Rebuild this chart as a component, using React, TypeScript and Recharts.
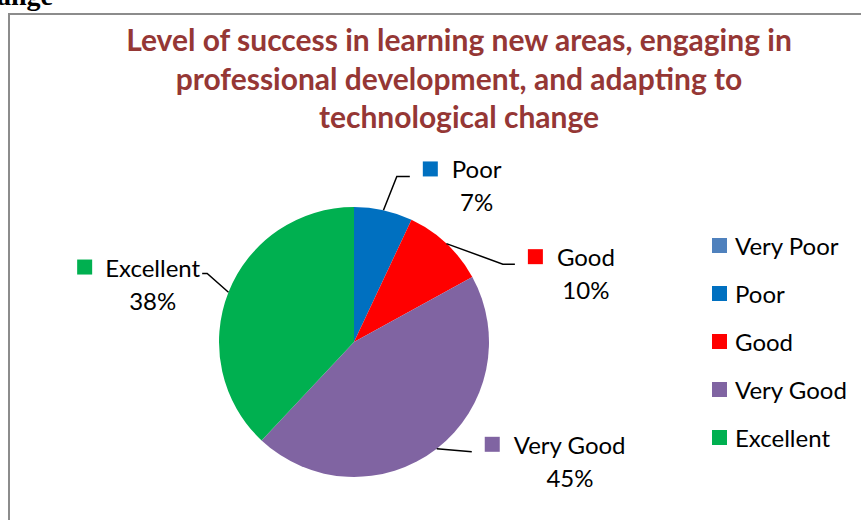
import { PieChart, Pie, Cell, Legend } from 'recharts';

const categories = ['Very Poor', 'Poor', 'Good', 'Very Good', 'Excellent'];
const shares = [0, 7, 10, 45, 38];
const colors = ['#4F81BD', '#0070C0', '#FF0000', '#8064A2', '#00B050'];
const titleLines = [
  'Level of success in learning new areas, engaging in',
  'professional development, and adapting to',
  'technological change',
];

const data = categories.map((name, i) => ({ name, value: shares[i] }));

const FONT = 'Lato, "Open Sans", sans-serif';
const LABEL_SIZE = 24;
const RADIAN = Math.PI / 180;

// where Excel put the elbow of each leader line (angle in degrees, distance from centre)
const leaderLayout: Record<string, { angle: number; dist: number; leg: number }> = {
  Poor: { angle: 75.5, dist: 171, leg: 13 },
  Good: { angle: 27.6, dist: 168, leg: 12 },
  'Very Good': { angle: -43, dist: 161, leg: 0 },
  Excellent: { angle: 155, dist: 162, leg: -5 },
};

let ctx: CanvasRenderingContext2D | null = null;
function textWidth(s: string) {
  if (!ctx) ctx = document.createElement('canvas').getContext('2d');
  if (!ctx) return s.length * LABEL_SIZE * 0.5;
  ctx.font = `${LABEL_SIZE}px Lato`;
  return ctx.measureText(s).width;
}

const renderLabel = (props: any) => {
  const { cx, cy, midAngle, outerRadius, index, value } = props;
  if (!value) return null;
  const name = categories[index];
  const lay = leaderLayout[name];
  const sx = cx + outerRadius * Math.cos(-midAngle * RADIAN);
  const sy = cy + outerRadius * Math.sin(-midAngle * RADIAN);
  const ex = cx + lay.dist * Math.cos(-lay.angle * RADIAN);
  const ey = cy + lay.dist * Math.sin(-lay.angle * RADIAN);
  const tx = ex + lay.leg;
  const right = lay.leg >= 0;
  const w = textWidth(name);
  const nameX = right ? tx + 42 : tx - 2 - w;
  const nameMid = nameX + w / 2;
  const markX = right ? tx + 13 : nameX - 28;
  const base = ey + (right ? 2 : 3);
  return (
    <g>
      <polyline points={`${sx},${sy} ${ex},${ey} ${tx},${ey}`} fill="none" stroke="#000" strokeWidth={1.5} />
      <rect x={markX} y={base - 17} width={15} height={15} fill={colors[index]} />
      <text x={nameX} y={base} fontFamily={FONT} fontSize={LABEL_SIZE} fill="#000">
        {name}
      </text>
      <text x={nameMid} y={base + 33} textAnchor="middle" fontFamily={FONT} fontSize={LABEL_SIZE} fill="#000">
        {`${value}%`}
      </text>
    </g>
  );
};

const renderLegend = () => (
  <div style={{ fontFamily: FONT, fontSize: LABEL_SIZE, color: '#000' }}>
    {categories.map((c, i) => (
      <div key={c} style={{ display: 'flex', alignItems: 'center', height: 48.2 }}>
        <span style={{ width: 15, height: 15, background: colors[i], marginRight: 8, display: 'inline-block' }} />
        <span>{c}</span>
      </div>
    ))}
  </div>
);

export default function App() {
  return (
    <div style={{ position: 'absolute', left: 0, top: 0, width: 861, height: 520, overflow: 'hidden', background: '#fff' }}>
      <div
        style={{
          position: 'absolute',
          left: 8,
          top: 13,
          width: 900,
          height: 560,
          border: '2px solid #8c8c8c',
          boxSizing: 'border-box',
        }}
      />
      <svg width={861} height={140} style={{ position: 'absolute', left: 0, top: 0 }}>
        <text x={-31} y={5} fontFamily='"Liberation Serif", serif' fontWeight="bold" fontSize={28} fill="#000">
          change
        </text>
        {titleLines.map((t, i) => (
          <text
            key={t}
            x={459}
            y={51 + i * 38.5}
            textAnchor="middle"
            fontFamily={FONT}
            fontWeight="bold"
            fontSize={30}
            fill="#953735"
          >
            {t}
          </text>
        ))}
      </svg>
      <div style={{ position: 'absolute', left: 0, top: 0 }}>
        <PieChart width={861} height={520} margin={{ top: 0, right: 0, bottom: 0, left: 0 }}>
          <Pie
            data={data}
            dataKey="value"
            nameKey="name"
            cx={354}
            cy={342}
            outerRadius={135}
            startAngle={90}
            endAngle={-270}
            stroke="none"
            label={renderLabel}
            labelLine={false}
            isAnimationActive={false}
          >
            {data.map((d, i) => (
              <Cell key={d.name} fill={colors[i]} />
            ))}
          </Pie>
          <Legend content={renderLegend} wrapperStyle={{ position: 'absolute', left: 712, top: 221, width: 150 }} />
        </PieChart>
      </div>
    </div>
  );
}
